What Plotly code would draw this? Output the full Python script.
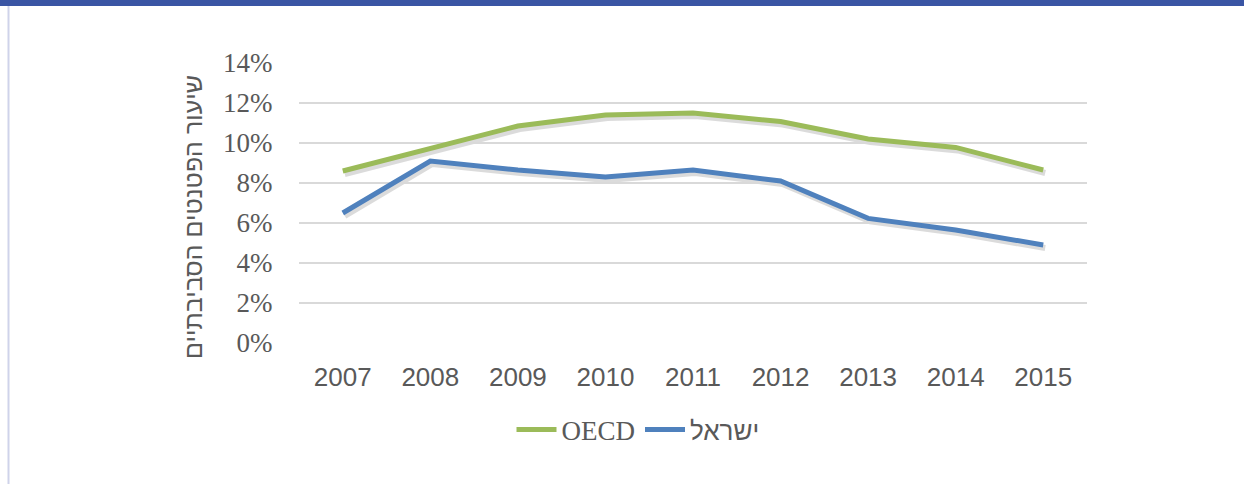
import plotly.graph_objects as go

years = ["2007", "2008", "2009", "2010", "2011", "2012", "2013", "2014", "2015"]
oecd = [0.086, 0.097, 0.1085, 0.114, 0.115, 0.1107, 0.102, 0.0978, 0.0865]
israel = [0.065, 0.091, 0.0865, 0.083, 0.0865, 0.081, 0.0623, 0.0565, 0.049]
y_ticks = [0, 0.02, 0.04, 0.06, 0.08, 0.10, 0.12, 0.14]
y_labels = ["0%", "2%", "4%", "6%", "8%", "10%", "12%", "14%"]
y_title = "שיעור הפטנטים הסביבתיים"
name_oecd = "OECD"
name_israel = "ישראל"

W, H = 1244, 484
L, R, T, B = 299, 1087, 63, 343
dx, dy = 2, 3  # shadow offset in px

GREEN = "#9bbb59"
BLUE = "#4f81bd"
SHADOW = "rgba(0,0,0,0.14)"
SANS = "Liberation Sans, Arial, sans-serif"
SERIF = "Liberation Serif, Times New Roman, serif"

fig = go.Figure()

# shadows (subplot 1, shifted)
for vals in (oecd, israel):
    fig.add_trace(go.Scatter(x=years, y=vals, mode="lines", xaxis="x", yaxis="y",
                             line=dict(color=SHADOW, width=6), showlegend=False,
                             hoverinfo="skip"))

fig.add_trace(go.Scatter(x=years, y=oecd, mode="lines", xaxis="x2", yaxis="y2",
                         name=name_oecd, line=dict(color=GREEN, width=5)))
fig.add_trace(go.Scatter(x=years, y=israel, mode="lines", xaxis="x2", yaxis="y2",
                         name="<span style='font-family:" + SANS + ";font-size:26px'>" + name_israel + "</span>",
                         line=dict(color=BLUE, width=5)))

def fx(px):
    return px / W

def fy(py):
    return 1 - py / H

fig.update_layout(
    width=W, height=H, autosize=False,
    margin=dict(l=0, r=0, t=0, b=0, pad=0, autoexpand=False),
    paper_bgcolor="white", plot_bgcolor="rgba(0,0,0,0)",
    xaxis=dict(domain=[fx(L + dx), fx(R + dx)], visible=False, type="category",
               range=[-0.5, 8.5], automargin=False),
    yaxis=dict(domain=[fy(B + dy), fy(T + dy)], visible=False, range=[0, 0.14], automargin=False),
    xaxis2=dict(domain=[fx(L), fx(R)], anchor="y2", type="category", range=[-0.5, 8.5],
                showgrid=False, showline=False, zeroline=False, automargin=False,
                ticks="outside", ticklen=11, tickcolor="rgba(0,0,0,0)",
                tickfont=dict(family=SANS, size=26, color="#595959")),
    yaxis2=dict(domain=[fy(B), fy(T)], anchor="x2", range=[0, 0.14], automargin=False,
                tickvals=y_ticks, ticktext=y_labels,
                showgrid=True, gridcolor="#d9d9d9", gridwidth=1.5,
                zeroline=False, showline=False,
                ticks="outside", ticklen=20, tickcolor="rgba(0,0,0,0)",
                tickfont=dict(family=SERIF, size=27, color="#595959")),
    legend=dict(orientation="h", x=fx(638), y=fy(430), xanchor="center", yanchor="middle",
                font=dict(family=SERIF, size=27, color="#595959"),
                itemwidth=40, tracegroupgap=0, bgcolor="rgba(0,0,0,0)"),
    showlegend=True,
)

fig.add_annotation(text=y_title, xref="paper", yref="paper", x=fx(193), y=fy(217),
                   showarrow=False, textangle=-90, xanchor="center", yanchor="middle",
                   font=dict(family=SANS, size=25, color="#595959"))

# decorative frame: top blue bar and left light border
fig.add_shape(type="rect", xref="paper", yref="paper", x0=0, x1=1, y0=fy(6), y1=1,
              fillcolor="#3a55a4", line=dict(width=0), layer="above")
fig.add_shape(type="line", xref="paper", yref="paper", x0=fx(8.5), x1=fx(8.5), y0=0, y1=fy(6),
              line=dict(color="#cfd3ea", width=2))

fig.write_html("out.html", config={"displayModeBar": False},
               post_script="document.body.style.margin='0';document.body.style.overflow='hidden';")
